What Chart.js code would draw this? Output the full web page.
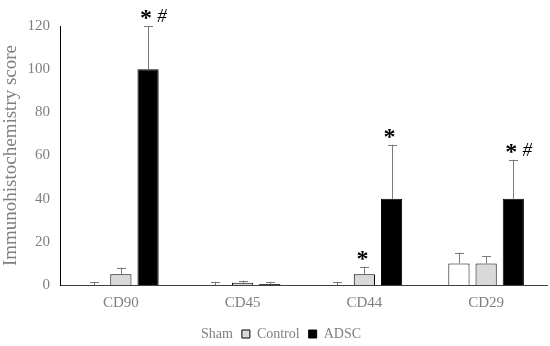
<!DOCTYPE html>
<html><head><meta charset="utf-8">
<script src="https://cdn.jsdelivr.net/npm/chart.js@4/dist/chart.umd.min.js"></script>
<style>html,body{margin:0;padding:0;background:#fff}#wrap{width:550px;height:346px}</style>
</head><body><div id="wrap"><canvas id="c" width="550" height="346"></canvas></div>
<script>
const categories = ["CD90", "CD45", "CD44", "CD29"];
const seriesNames = ["Sham", "Control", "ADSC"];
const shamValues = [0, 0, 0, 10];
const shamErrors = [1.5, 1.5, 1.5, 5];
const controlValues = [5, 1, 5, 10];
const controlErrors = [3, 1, 3.5, 3.5];
const adscValues = [100, 0.5, 40, 40];
const adscErrors = [20, 1, 25, 18];
const yTicks = [0, 20, 40, 60, 80, 100, 120];
// significance marks per series, per category
const shamMarks = ["", "", "", ""];
const controlMarks = ["", "", "*", ""];
const adscMarks = ["* #", "", "*", "* #"];

const serif = "'Liberation Serif', 'Times New Roman', serif";
const gray = "#7f7f7f";

const errorPlugin = {
  id: 'errs',
  afterLayout(chart) {
    if (chart.legend) { chart.legend.top += 5; chart.legend.bottom += 5; }
  },
  afterDatasetsDraw(chart) {
    const ctx = chart.ctx, y = chart.scales.y;
    chart.data.datasets.forEach((ds, i) => {
      const meta = chart.getDatasetMeta(i);
      meta.data.forEach((bar, j) => {
        const v = ds.data[j], e = ds.errs[j];
        const y0 = y.getPixelForValue(v), y1 = y.getPixelForValue(v + e);
        ctx.save();
        ctx.strokeStyle = "#7a7a7a"; ctx.lineWidth = 1;
        ctx.beginPath();
        ctx.moveTo(Math.round(bar.x) + 0.5, y0);
        ctx.lineTo(Math.round(bar.x) + 0.5, y1);
        ctx.moveTo(Math.round(bar.x) - 4, Math.round(y1) + 0.5);
        ctx.lineTo(Math.round(bar.x) + 5, Math.round(y1) + 0.5);
        ctx.stroke();
        const m = ds.marks[j];
        if (m) {
          const ty = y1 - 12;
          ctx.fillStyle = "#000";
          ctx.textAlign = "center"; ctx.textBaseline = "middle";
          if (m.includes("*")) {
            ctx.font = "bold 24px " + serif;
            ctx.fillText("*", bar.x - 2, ty + 5);
          }
          if (m.includes("#")) {
            ctx.font = "italic 19px " + serif;
            ctx.fillText("#", bar.x + 14, ty + 3);
          }
        }
        ctx.restore();
      });
    });
  }
};

new Chart(document.getElementById('c'), {
  type: 'bar',
  data: {
    labels: categories,
    datasets: [
      { label: seriesNames[0], data: shamValues, errs: shamErrors, marks: shamMarks, backgroundColor: "#ffffff", borderColor: "#000", borderWidth: 1 },
      { label: seriesNames[1], data: controlValues, errs: controlErrors, marks: controlMarks, backgroundColor: "#d9d9d9", borderColor: "#000", borderWidth: 1 },
      { label: seriesNames[2], data: adscValues, errs: adscErrors, marks: adscMarks, backgroundColor: "#000000", borderColor: "#000", borderWidth: 1 }
    ]
  },
  options: {
    responsive: false, animation: false,
    layout: { padding: { top: 26, right: 3, left: 0, bottom: 0 } },
    datasets: { bar: { categoryPercentage: 0.67, barPercentage: 0.78 } },
    plugins: {
      tooltip: { enabled: false },
      legend: {
        position: 'bottom',
        labels: {
          font: { family: serif, size: 14 }, color: gray,
          boxWidth: 8, boxHeight: 8, padding: 9,
          generateLabels(chart) {
            return chart.data.datasets.map((ds, i) => ({
              text: ds.label,
              fillStyle: ds.backgroundColor,
              strokeStyle: i === 0 ? "#ffffff" : "#000",
              lineWidth: 1, datasetIndex: i, fontColor: gray
            }));
          }
        }
      }
    },
    scales: {
      x: {
        afterFit(s) { s.height = 28; },
        grid: { display: false, drawTicks: false },
        border: { color: "#404040", width: 1 },
        ticks: { font: { family: serif, size: 15 }, color: gray, padding: 9 }
      },
      y: {
        min: 0, max: 120,
        afterBuildTicks(s) { s.ticks = yTicks.map(v => ({ value: v })); },
        afterFit(s) { s.width = 60; },
        grid: { display: false, drawTicks: false },
        border: { color: "#000", width: 1 },
        ticks: { font: { family: serif, size: 15 }, color: gray, padding: 10 },
        title: { display: true, text: "Immunohistochemistry score", font: { family: serif, size: 19 }, color: gray, padding: 0 }
      }
    }
  },
  plugins: [errorPlugin]
});
</script></body></html>
